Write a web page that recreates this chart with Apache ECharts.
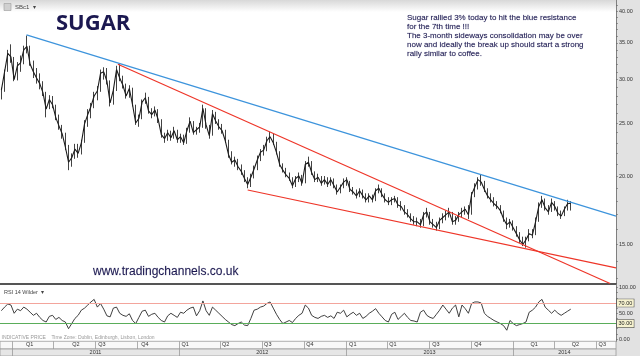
<!DOCTYPE html>
<html><head><meta charset="utf-8">
<script src="https://cdn.jsdelivr.net/npm/echarts@6/dist/echarts.min.js"></script>
<style>html,body{margin:0;padding:0;background:#fff}#c{width:640px;height:356px}</style>
</head><body><div id="c"></div>
<script>
// ---------------- DATA (weekly) ----------------
const firstWeek = [2010, 12, 8];
const weekClose = [
28.7,31.0,33.5,33.0,30.0,31.8,32.2,34.0,34.5,32.0,
31.0,30.2,29.5,28.4,26.5,27.6,27.0,25.6,24.7,23.9,
22.6,21.2,21.6,22.4,22.0,23.0,24.9,25.9,26.8,28.0,
28.6,30.8,31.0,29.8,27.2,28.7,31.3,30.2,29.3,28.0,
28.9,27.0,25.0,25.5,27.3,27.8,26.3,25.9,26.4,25.4,
23.8,23.4,24.0,23.5,24.2,23.3,23.6,23.0,24.2,25.2,
24.0,24.3,24.6,26.6,24.8,23.7,26.0,25.2,24.6,24.2,
23.2,21.9,21.2,21.4,20.8,20.4,19.8,19.3,19.9,20.6,
21.4,22.1,22.3,23.2,23.6,23.0,22.1,21.0,20.5,20.1,
19.8,19.2,19.8,20.0,19.4,21.0,21.2,20.3,19.7,19.9,
19.4,19.7,19.3,19.7,19.2,18.7,19.1,19.5,19.7,18.9,
18.7,18.4,18.8,18.4,18.1,18.4,18.1,18.8,19.0,18.5,
18.1,17.9,18.1,18.2,17.7,17.6,17.2,17.0,16.7,16.5,
16.5,16.3,17.0,17.2,16.5,16.3,16.1,16.6,16.8,17.0,
17.2,16.5,16.6,17.0,17.2,17.4,17.0,18.5,19.1,19.7,
19.5,18.9,18.4,18.1,17.8,17.6,17.3,16.7,16.3,16.5,
16.1,15.7,15.3,15.0,15.3,15.7,15.6,16.5,17.6,18.1,
17.5,17.2,17.9,17.6,17.1,16.9,17.4,17.8,17.84
];
const weekHigh = [
29.0,31.3,34.0,34.8,33.0,32.3,33.2,34.6,36.1,34.6,
32.5,31.5,30.8,29.8,28.5,28.1,28.0,27.0,25.9,24.8,
24.0,22.8,22.0,22.9,22.9,23.3,25.3,26.5,27.2,28.5,
29.2,31.3,31.6,31.5,29.9,29.0,31.8,32.0,30.5,29.5,
29.3,29.0,27.0,25.9,27.6,28.4,27.9,26.6,26.8,26.5,
25.4,24.0,24.3,24.2,24.6,24.3,23.9,23.8,24.5,25.6,
25.2,24.6,25.0,27.0,26.6,24.8,26.4,26.2,25.4,24.9,
24.3,23.3,22.2,21.7,21.5,21.0,20.5,19.9,20.2,20.9,
21.8,22.4,22.8,23.6,24.1,23.9,23.1,22.2,21.1,20.7,
20.3,19.9,20.0,20.3,20.1,21.3,21.7,21.3,20.4,20.2,
20.0,20.0,19.9,19.9,19.8,19.3,19.3,19.8,19.9,19.6,
19.1,18.9,19.0,18.9,18.6,18.6,18.5,19.0,19.3,19.0,
18.6,18.3,18.3,18.4,18.3,18.0,17.7,17.4,17.1,16.9,
16.8,16.7,17.2,17.5,17.2,16.7,16.5,16.8,17.1,17.3,
17.5,17.2,16.9,17.2,17.5,17.6,17.7,18.7,19.4,19.9,
20.1,19.6,19.0,18.6,18.3,18.0,17.7,17.3,16.8,16.7,
16.6,16.2,15.8,15.5,15.5,16.0,16.0,16.8,17.9,18.4,
18.2,17.7,18.2,18.0,17.6,17.3,17.6,18.1,18.0
];
const weekLow = [
27.6,28.5,31.0,32.2,29.8,29.9,31.0,32.0,33.5,31.8,
30.2,29.5,28.8,28.0,25.6,26.5,26.6,25.3,24.3,23.4,
22.3,20.5,20.8,21.5,21.6,21.9,23.0,24.6,25.5,26.6,
27.5,28.5,30.0,29.4,26.8,27.0,28.6,29.8,28.9,27.7,
27.8,26.8,24.8,24.6,25.4,27.1,26.0,25.5,25.7,25.0,
23.5,23.0,23.2,23.2,23.4,23.0,23.0,22.8,22.9,24.0,
23.8,23.8,24.0,24.5,24.4,23.4,23.7,24.9,24.3,23.9,
23.0,21.6,21.0,20.8,20.5,20.1,19.5,19.0,19.1,19.8,
20.5,21.3,21.8,22.2,23.0,22.8,21.9,20.8,20.3,19.9,
19.6,19.0,19.1,19.5,19.2,19.4,20.8,20.1,19.5,19.5,
19.2,19.3,19.1,19.2,19.0,18.5,18.6,19.0,19.2,18.7,
18.5,18.2,18.3,18.2,17.9,17.9,17.9,18.0,18.6,18.3,
17.9,17.7,17.7,17.9,17.5,17.3,17.0,16.8,16.5,16.3,
16.2,16.1,16.2,16.8,16.3,16.1,15.9,16.0,16.4,16.6,
16.8,16.3,16.3,16.5,16.8,17.0,16.7,17.0,18.3,18.9,
19.2,18.7,18.2,17.9,17.6,17.4,17.1,16.5,16.0,16.1,
15.9,15.5,15.1,14.9,14.8,15.2,15.4,15.6,16.5,17.5,
17.3,17.0,17.2,17.3,16.9,16.7,16.9,17.3,17.3
];
const rsiValues = [
55,62,68,66,50,58,55,62,58,52,
46,50,42,36,33,44,46,38,42,36,
33,20,30,40,46,56,60,66,72,77,
62,69,58,45,43,60,62,50,46,44,
49,36,30,42,54,56,44,48,50,42,
36,33,45,50,46,42,52,50,56,60,
62,45,55,74,55,46,62,56,50,44,
38,33,28,26,30,33,27,26,40,56,
58,62,64,69,72,60,48,38,30,33,
36,32,40,46,50,66,60,46,42,40,
44,46,42,45,40,52,50,56,43,48,
52,46,50,40,44,50,54,59,50,43,
36,33,48,52,38,44,50,42,36,35,
33,52,56,46,42,40,48,56,66,58,
50,60,66,43,66,59,50,69,72,72,
70,50,44,40,36,33,30,26,17,36,
30,26,28,30,33,52,56,62,72,77,
62,56,50,56,50,46,50,54,58
];
const lastPrice = 17.84;
const priceTicks = [15, 20, 25, 30, 35, 40];
const rsiTicks = [0, 50, 100];
const rsiLevels = [70, 30];
// trend lines: [startDate, startPrice, endDate, endPrice]
const blueLine = ['2011-02-01', 36.2, '2014-08-14', 16.9];
const redUpper = ['2011-08-20', 32.0, '2014-08-01', 12.73];
const redLower = ['2012-05-30', 18.86, '2014-08-14', 13.59];
const quarterBounds = ['2011-01-01','2011-04-01','2011-07-01','2011-10-01','2012-01-01','2012-04-01','2012-07-01','2012-10-01',
  '2013-01-01','2013-04-01','2013-07-01','2013-10-01','2014-01-01','2014-04-01','2014-07-01'];
const quarterLabels = ['Q1','Q2','Q3','Q4','Q1','Q2','Q3','Q4','Q1','Q1','Q3','Q4','Q1','Q2','Q3'];
const quarterLabelAt = ['2011-02-08','2011-05-20','2011-07-16','2011-10-18','2012-01-14','2012-04-12','2012-07-13','2012-10-13',
  '2013-01-15','2013-04-13','2013-07-16','2013-10-16','2014-02-16','2014-05-17','2014-07-15'];
const yearBounds = ['2011-01-01','2012-01-01','2013-01-01','2014-01-01'];
const yearLabels = ['2011','2012','2013','2014'];
const yearLabelAt = ['2011-07-02','2012-07-01','2013-07-02','2014-04-23'];
const xStart = '2010-12-05', xEnd = '2014-08-14';

// ---------------- helpers ----------------
const T = s => { const p = s.split('-').map(Number); return new Date(p[0], p[1]-1, p[2]).getTime(); };
const weekDates = weekClose.map((_, i) => new Date(firstWeek[0], firstWeek[1]-1, firstWeek[2] + 7*i).getTime());
const candles = weekClose.map((c, i) => [weekDates[i], i > 0 ? weekClose[i-1] : c, c, weekLow[i], weekHigh[i]]);
const closeLine = weekClose.map((c, i) => [weekDates[i], c]);
const rsiData = rsiValues.map((v, i) => [weekDates[i], v]);
const qMap = {}; quarterLabelAt.forEach((d, i) => qMap[T(d)] = quarterLabels[i]);
const yMap = {}; yearLabelAt.forEach((d, i) => yMap[T(d)] = yearLabels[i]);
const seg = (a, color) => [{coord: [T(a[0]), a[1]], lineStyle: {color: color, width: 1.2, type: 'solid'}}, {coord: [T(a[2]), a[3]]}];

const FONT = 'Liberation Sans';
const NAVY = '#1b1850';
const X0 = T(xStart), X1 = T(xEnd);
const axisFmt = v => Number(v).toFixed(2);
const boxLabel = (bg) => ({show: true, position: 'end', distance: 1, formatter: p => Number(p.value).toFixed(2),
  fontSize: 5.5, fontFamily: FONT, color: '#222', backgroundColor: bg, borderColor: '#555', borderWidth: 0.6, padding: [1, 1.5, 0.5, 1.5]});
const hiddenX = (g) => ({type: 'value', gridIndex: g, min: X0, max: X1, axisLine: {show: false}, axisTick: {show: false}, axisLabel: {show: false}, splitLine: {show: false}});

const chart = echarts.init(document.getElementById('c'), null, {renderer: 'canvas'});
chart.setOption({
  animation: false,
  backgroundColor: '#ffffff',
  graphic: [
    {type: 'rect', z: -10, shape: {x: 0, y: 0, width: 616, height: 12}, style: {fill: new echarts.graphic.LinearGradient(0, 0, 0, 1, [{offset: 0, color: '#d8d8d8'}, {offset: 1, color: '#ffffff'}])}},
    {type: 'rect', z: -10, shape: {x: 616, y: 0, width: 24, height: 356}, style: {fill: '#e2e2e2'}},
    {type: 'rect', z: 5, shape: {x: 4, y: 3.5, width: 7, height: 7}, style: {fill: '#d0d0d0', stroke: '#9a9a9a', lineWidth: 0.6}}
  ],
  title: [
    {text: 'SBc1  \u25BE', left: 15, top: 4, padding: 0, textStyle: {fontSize: 6, fontWeight: 'normal', color: '#444', fontFamily: FONT}},
    {text: 'SUGAR', left: 56, top: 13, padding: 0, textStyle: {fontSize: 22, fontWeight: 'bold', color: NAVY, fontFamily: 'Open Sans'}},
    {text: 'Sugar rallied 3% today to hit the blue resistance\nfor the 7th time !!!\nThe 3-month sideways consolidation may be over\nnow and ideally the break up should start a strong\nrally similar to coffee.',
      left: 407, top: 13, padding: 0, textStyle: {fontSize: 8, lineHeight: 9, fontWeight: 'normal', color: NAVY, fontFamily: FONT, textBorderColor: 'rgba(27,24,80,0.35)', textBorderWidth: 0.3}},
    {text: 'www.tradingchannels.co.uk', left: 93, top: 266, padding: 0, textStyle: {fontSize: 12, fontWeight: 'normal', color: NAVY, fontFamily: FONT, textBorderColor: 'rgba(27,24,80,0.4)', textBorderWidth: 0.3}},
    {text: 'RSI 14 Wilder  \u25BE', left: 4, top: 289.5, padding: 0, textStyle: {fontSize: 5.5, fontWeight: 'normal', color: '#444', fontFamily: FONT}},
    {text: 'INDICATIVE PRICE    Time Zone: Dublin, Edinburgh, Lisbon, London', left: 1.5, top: 335.5, padding: 0, textStyle: {fontSize: 5, fontWeight: 'normal', color: '#999', fontFamily: FONT}}
  ],
  grid: [
    {left: 0, right: 24, top: 0, height: 283.5},
    {left: 0, right: 24, top: 285.5, height: 55.8},
    {left: 0, right: 24, top: 341.3, height: 7.7, show: true, backgroundColor: '#f8f8f8', borderColor: '#9a9a9a', borderWidth: 0.8},
    {left: 0, right: 24, top: 349, height: 7, show: true, backgroundColor: '#e6e6e6', borderColor: '#9a9a9a', borderWidth: 0.8}
  ],
  xAxis: [
    Object.assign(hiddenX(0), {axisLine: {show: true, lineStyle: {color: '#555', width: 2}}}),
    hiddenX(1),
    {type: 'value', gridIndex: 2, min: X0, max: X1, axisLine: {show: false},
      axisTick: {show: true, inside: true, length: 7.7, customValues: quarterBounds.map(T), lineStyle: {color: '#9a9a9a', width: 0.8}},
      axisLabel: {show: true, inside: true, margin: 1.2, customValues: quarterLabelAt.map(T), formatter: v => qMap[v] || '', fontSize: 5.5, color: '#333', fontFamily: FONT},
      splitLine: {show: false}},
    {type: 'value', gridIndex: 3, min: X0, max: X1, axisLine: {show: false},
      axisTick: {show: true, inside: true, length: 7, customValues: yearBounds.map(T), lineStyle: {color: '#9a9a9a', width: 0.8}},
      axisLabel: {show: true, inside: true, margin: 1, customValues: yearLabelAt.map(T), formatter: v => yMap[v] || '', fontSize: 5.5, color: '#333', fontFamily: FONT},
      splitLine: {show: false}}
  ],
  yAxis: [
    {type: 'log', logBase: 10, gridIndex: 0, position: 'right', min: 12.73, max: 41.93,
      axisLine: {show: true, lineStyle: {color: '#666', width: 0.8}},
      axisTick: {show: true, length: 2, customValues: [13,14,15,16,17,18,19,20,21,22,23,24,25,26,27,28,29,30,31,32,33,34,35,36,37,38,39,40,41], lineStyle: {color: '#666', width: 0.6}},
      axisLabel: {show: true, margin: 3, customValues: priceTicks, formatter: axisFmt, fontSize: 5.5, color: '#333', fontFamily: FONT},
      splitLine: {show: false}},
    {type: 'value', gridIndex: 1, position: 'right', min: -4.5, max: 104,
      axisLine: {show: true, lineStyle: {color: '#666', width: 0.8}},
      axisTick: {show: true, length: 2, customValues: [0,10,20,30,40,50,60,70,80,90,100], lineStyle: {color: '#666', width: 0.6}},
      axisLabel: {show: true, margin: 3, customValues: rsiTicks, formatter: axisFmt, fontSize: 5.5, color: '#333', fontFamily: FONT},
      splitLine: {show: false}},
    {type: 'value', gridIndex: 2, min: 0, max: 1, show: false},
    {type: 'value', gridIndex: 3, min: 0, max: 1, show: false}
  ],
  series: [
    {type: 'candlestick', xAxisIndex: 0, yAxisIndex: 0, data: candles, barWidth: 1.3, silent: true,
      itemStyle: {color: '#111', color0: '#111', borderColor: '#111', borderColor0: '#111', borderWidth: 0.8},
      markLine: {silent: true, symbol: ['none', 'none'], animation: false,
        label: {show: false},
        data: [
          seg(blueLine, '#3d94dc'),
          seg(redUpper, '#ee3528'),
          seg(redLower, '#ee3528'),
          {yAxis: lastPrice, lineStyle: {opacity: 0}, label: boxLabel('#ffffc0')}
        ]}},
    {type: 'line', xAxisIndex: 0, yAxisIndex: 0, data: closeLine, symbol: 'none', silent: true, z: 3,
      lineStyle: {color: '#1c1c1c', width: 1.1}},
    {type: 'line', xAxisIndex: 1, yAxisIndex: 1, data: rsiData, symbol: 'none', silent: true,
      lineStyle: {color: '#2a2a2a', width: 0.9},
      markLine: {silent: true, symbol: ['none', 'none'], animation: false,
        data: [
          {yAxis: rsiLevels[0], lineStyle: {color: '#f3a59c', width: 1, type: 'solid'}, label: boxLabel('#f6f2cf')},
          {yAxis: rsiLevels[1], lineStyle: {color: '#5aad5a', width: 1, type: 'solid'}, label: boxLabel('#f6f2cf')}
        ]}}
  ]
});
</script>
</body></html>
